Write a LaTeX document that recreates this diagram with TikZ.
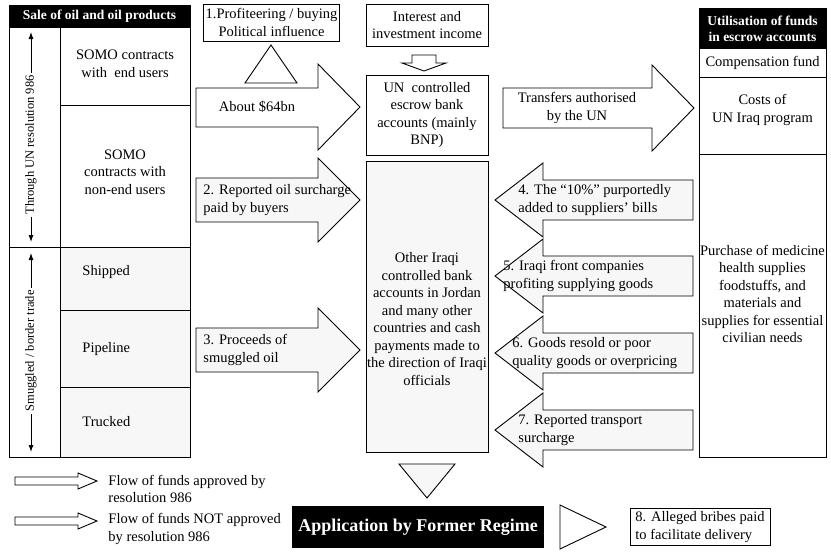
\documentclass[tikz,border=0pt]{standalone}
\usepackage{fontspec}
\setmainfont{Liberation Serif}
\usetikzlibrary{arrows.meta,positioning}
\tikzset{
  txt/.style={font=\fontsize{14.5}{17.5}\selectfont,align=center,inner sep=0pt},
  lefttxt/.style={txt,align=left,anchor=west},
  sidetxt/.style={font=\fontsize{12.5}{14}\selectfont,inner sep=2pt,rotate=90},
  headtxt/.style={font=\fontsize{13.5}{16}\selectfont\bfseries,text=white,align=center,inner sep=0pt},
  framed/.style={txt,draw,inner sep=2pt},
  speckled/.style={fill=black!3},
}
\begin{document}
\begin{tikzpicture}[x=1pt,y=-1pt,line width=0.9pt,>={Latex[length=7pt,width=5pt]}]
\useasboundingbox (0,0) rectangle (831,555);
\fill[black] (9,5) rectangle (190,28);
\node[headtxt] (saleHead) at (99.5,16.5) {Sale of oil and oil products};
\fill[speckled] (60,247) rectangle (190,457);
\draw (9,5) rectangle (190,457);
\draw (60,28) -- (60,457);
\draw (9,247) -- (190,247);
\foreach \y in {105,310,387} {
  \draw (60,\y) -- (190,\y);
}
\node[sidetxt] (through) at (31,145) {Through UN resolution 986};
\coordinate (throughTop) at (31,32);
\coordinate (throughBot) at (31,242);
\draw[->] (through.east) -- (throughTop);
\draw[->] (through.west) -- (throughBot);
\node[sidetxt] (border) at (31,351) {Smuggled / border trade};
\coordinate (borderTop) at (31,253);
\coordinate (borderBot) at (31,452);
\draw[->] (border.east) -- (borderTop);
\draw[->] (border.west) -- (borderBot);
\node[txt] (somoEnd) at (125,64) {SOMO contracts\\with~ end users};
\node[txt] (somoOther) at (125,172) {SOMO\\contracts with\\non-end users};
\node[lefttxt] (shipped) at (82,272) {Shipped};
\node[lefttxt] (pipeline) at (82,349) {Pipeline};
\node[lefttxt] (trucked) at (82,422) {Trucked};

\node[framed,minimum width=133,minimum height=37] (profit) at (271.5,22.5) {1.Profiteering / buying\\Political influence};
\draw (245,83) -- (271,45) -- (297,83) -- cycle;
\draw (196,88) -- (318,88) -- (318,64) -- (360,107) -- (318,150) -- (318,127) -- (196,127) -- cycle;
\node[txt] (about) at (257,107) {About \$64bn};
\draw[speckled] (196,178) -- (318,178) -- (318,158) -- (360,200) -- (318,242) -- (318,222) -- (196,222) -- cycle;
\node[lefttxt] (surcharge) at (203,200) {2. Reported oil surcharge\\paid by buyers};
\draw[speckled] (196,328) -- (318,328) -- (318,308) -- (360,350) -- (318,392) -- (318,372) -- (196,372) -- cycle;
\node[lefttxt] (smuggled) at (203,350) {3. Proceeds of\\smuggled oil};

\node[framed,minimum width=122,minimum height=42] (interest) at (427,25) {Interest and\\investment income};
\draw (412,55) -- (436,55) -- (436,63) -- (446,63) -- (424,71) -- (402,63) -- (412,63) -- cycle;
\node[framed,minimum width=122,minimum height=80] (escrow) at (427,115) {UN~ controlled\\escrow bank\\accounts (mainly\\BNP)};
\node[framed,speckled,minimum width=122,minimum height=291] (other) at (427,307) {};
\node[txt] (otherText) at (427,319) {Other Iraqi\\controlled bank\\accounts in Jordan\\and many other\\countries and cash\\payments made to\\the direction of Iraqi\\officials};
\draw[speckled] (399,464) -- (455,464) -- (427,498) -- cycle;

\draw (503,88) -- (652,88) -- (652,65) -- (694,108) -- (652,151) -- (652,128) -- (503,128) -- cycle;
\node[txt] (transfers) at (577,108) {Transfers authorised\\by the UN};
\foreach \yc in {200,276,353,430} {
  \draw[speckled] (693,{\yc-20}) -- (543,{\yc-20}) -- (543,{\yc-37}) -- (495,\yc) -- (543,{\yc+37}) -- (543,{\yc+20}) -- (693,{\yc+20}) -- cycle;
}
\node[lefttxt] (tenPct) at (518,200) {4. The ``10\%'' purportedly\\added to suppliers' bills};
\node[lefttxt] (front) at (503,276) {5. Iraqi front companies\\profiting supplying goods};
\node[lefttxt] (resold) at (512,353) {6. Goods resold or poor\\quality goods or overpricing};
\node[lefttxt] (transport) at (518,430) {7. Reported transport\\surcharge};

\fill[black] (699,8) rectangle (826,49);
\node[headtxt] (useHead) at (762.5,28.5) {Utilisation of funds\\in escrow accounts};
\draw (699,8) rectangle (826,457);
\foreach \y in {77,154} {
  \draw (699,\y) -- (826,\y);
}
\node[txt] (compensation) at (762.5,63) {Compensation fund};
\node[txt] (costs) at (762.5,110) {Costs of\\UN Iraq program};
\node[txt] (purchase) at (762.5,294) {Purchase of medicine\\health supplies\\foodstuffs, and\\materials and\\supplies for essential\\civilian needs};

\foreach \yc in {481,521} {
  \draw (15,{\yc-4}) -- (78,{\yc-4}) -- (78,{\yc-8}) -- (97,\yc) -- (78,{\yc+8}) -- (78,{\yc+4}) -- (15,{\yc+4}) -- cycle;
}
\node[lefttxt] (legendOk) at (108,489) {Flow of funds approved by\\resolution 986};
\node[lefttxt] (legendNot) at (108,529) {Flow of funds NOT approved\\by resolution 986};
\node[fill=black,text=white,font=\fontsize{18}{20}\selectfont\bfseries,minimum width=252,minimum height=42,inner sep=0pt] (regime) at (418,527) {Application by Former Regime};
\draw (560,505) -- (606,527) -- (560,549) -- cycle;
\node[framed,minimum width=140,minimum height=37,align=left] (bribes) at (700,527) {8. Alleged bribes paid\\to facilitate delivery};
\end{tikzpicture}
\end{document}
